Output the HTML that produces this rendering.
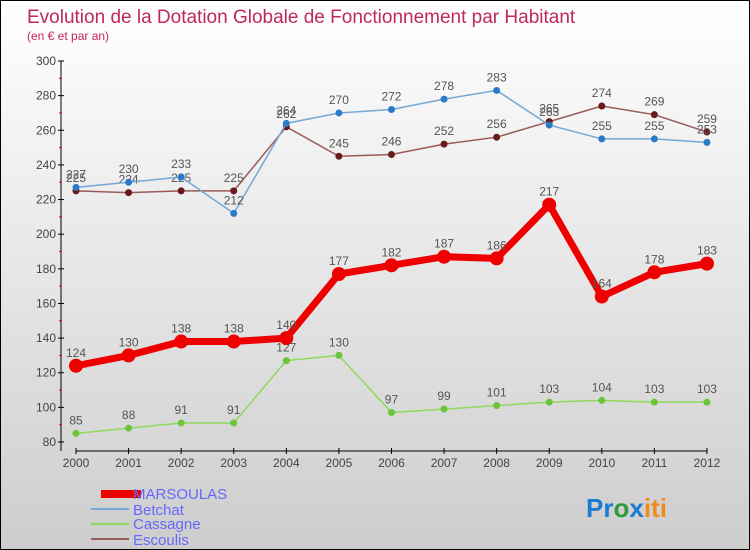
<!DOCTYPE html>
<html><head><meta charset="utf-8"><style>
body{margin:0}
#c{width:750px;height:550px;position:relative;overflow:hidden;background:linear-gradient(#ffffff,#cdcdcd);border:1px solid #000;box-sizing:border-box;font-family:"Liberation Sans",sans-serif}
</style></head><body>
<div id="c">
<svg width="750" height="550" id="svg">
<text x="26" y="22" font-size="19" fill="#c0285a">Evolution de la Dotation Globale de Fonctionnement par Habitant</text>
<text x="26" y="39" font-size="12" fill="#c0285a">(en € et par an)</text>
<g id="g"></g>
<g>
<rect x="100" y="489" width="40" height="8" fill="#e00"/>
<text x="132" y="498" font-size="15" fill="#6666ff">MARSOULAS</text>
<line x1="90" y1="508" x2="128" y2="508" stroke="#74a8d8" stroke-width="2"/>
<text x="132" y="514" font-size="15" fill="#6666ff">Betchat</text>
<line x1="90" y1="523" x2="128" y2="523" stroke="#8ed95a" stroke-width="2"/>
<text x="132" y="528" font-size="15" fill="#6666ff">Cassagne</text>
<line x1="90" y1="538" x2="128" y2="538" stroke="#9a5a5a" stroke-width="2"/>
<text x="132" y="544" font-size="15" fill="#6666ff">Escoulis</text>
</g>
<text x="585" y="516" font-size="26" font-weight="bold"><tspan fill="#1a7bd0">Pr</tspan><tspan fill="#2a9a3a">o</tspan><tspan fill="#1a7bd0">x</tspan><tspan fill="#f08a1a">iti</tspan></text>
</svg></div>
<script>
const years=["2000","2001","2002","2003","2004","2005","2006","2007","2008","2009","2010","2011","2012"];
const yTicks=[80,100,120,140,160,180,200,220,240,260,280,300];
const marsoulas=[124,130,138,138,140,177,182,187,186,217,164,178,183];
const betchat=[227,230,233,212,264,270,272,278,283,263,255,255,253];
const cassagne=[85,88,91,91,127,130,97,99,101,103,104,103,103];
const escoulis=[225,224,225,225,262,245,246,252,256,265,274,269,259];
const NS="http://www.w3.org/2000/svg",g=document.getElementById('g');
const X=i=>75+i*52.58, Y=v=>441-(v-80)*381/220;
function mk(t,a,p){const e=document.createElementNS(NS,t);for(const k in a)e.setAttribute(k,a[k]);(p||g).appendChild(e);return e;}
let e=mk('line',{x1:60,y1:60,x2:60,y2:450,stroke:'#000'});

e=mk('line',{x1:75,y1:450,x2:706,y2:450,stroke:'#000'});

yTicks.forEach(v=>{mk('line',{x1:57,x2:63,y1:Y(v),y2:Y(v),stroke:'#000'});
const t=mk('text',{x:55,y:Y(v)+4,'font-size':12,fill:'#444','text-anchor':'end'});t.textContent=v;

if(v<300)mk('line',{x1:58,x2:61,y1:Y(v+10),y2:Y(v+10),stroke:'#e00'});});
years.forEach((y,i)=>{mk('line',{x1:X(i),x2:X(i),y1:447,y2:453,stroke:'#000'});
const t=mk('text',{x:X(i),y:466,'font-size':12,fill:'#444','text-anchor':'middle'});t.textContent=y;
});
function series(name,d,col,dot,w,r){
const p=mk('polyline',{points:d.map((v,i)=>X(i)+','+Y(v)).join(' '),fill:'none',stroke:col,'stroke-width':w});

d.forEach((v,i)=>{const c=mk('circle',{cx:X(i),cy:Y(v),r:r,fill:dot});

const t=mk('text',{x:X(i),y:Y(v)-9,'font-size':12,fill:'#555','text-anchor':'middle'});t.textContent=v;
});}
series('cassagne',cassagne,'#8ed95a','#6cc43a',1.5,3.5);
series('escoulis',escoulis,'#9a5a5a','#6a1a1a',1.5,3.5);
series('betchat',betchat,'#74a8d8','#2a7ac8',1.5,3.5);
series('marsoulas',marsoulas,'#e00','#e00',7,7);
</script></body></html>
